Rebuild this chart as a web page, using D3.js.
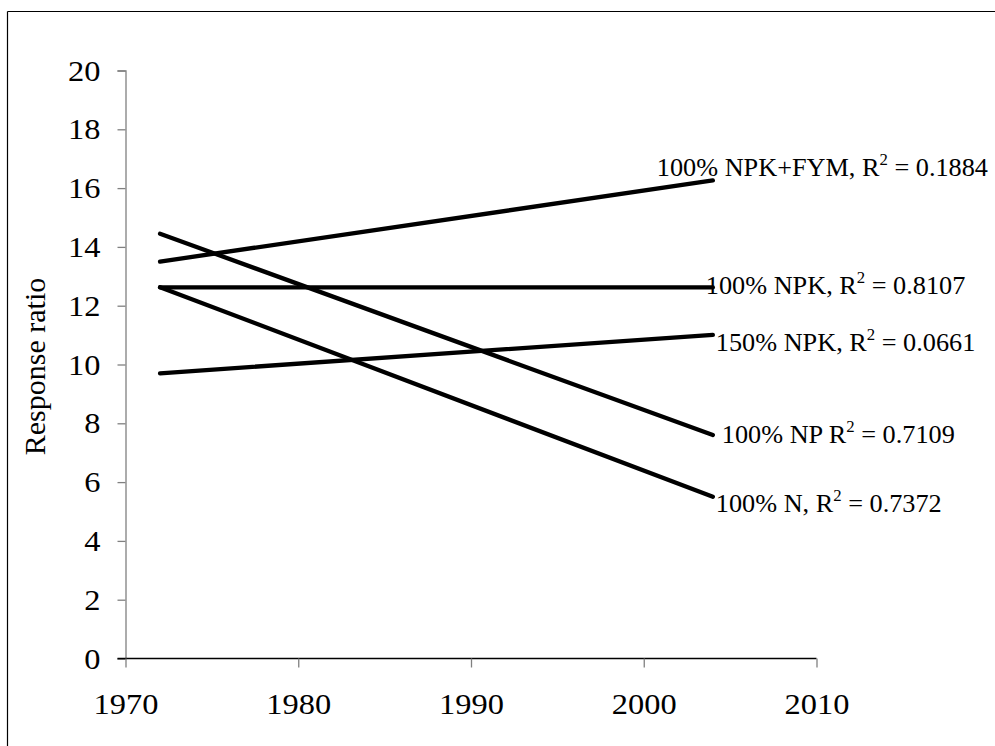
<!DOCTYPE html>
<html>
<head>
<meta charset="utf-8">
<script src="https://cdn.jsdelivr.net/npm/d3@7"></script>
<style>
  html, body { margin: 0; padding: 0; background: #fff; }
  svg { display: block; font-family: "Liberation Serif", "Times New Roman", serif; }
</style>
</head>
<body>
<svg id="chart" width="995" height="746"></svg>
<script>
// Fitted linear trends of response ratio per treatment (start and end of fit)
const years = [1972, 2004];
const series = ["100% NPK+FYM", "100% NPK", "150% NPK", "100% NP", "100% N"];
const startValues = [13.50, 12.62, 9.70, 14.45, 12.63];
const endValues = [16.26, 12.62, 11.01, 7.60, 5.50];
const rSquared = ["0.1884", "0.8107", "0.0661", "0.7109", "0.7372"];
const labelPrefix = ["100% NPK+FYM, R", "100% NPK, R", "150% NPK, R", "100% NP R", "100% N, R"];
const xTicks = [1970, 1980, 1990, 2000, 2010];
const yTicks = [0, 2, 4, 6, 8, 10, 12, 14, 16, 18, 20];

const serif = "Liberation Serif, Times New Roman, serif";
const wideTick = 1.08;  // horizontal stretch of tick glyphs
const wideLabel = 1.05; // horizontal stretch of trend label glyphs

const svg = d3.select("#chart");

// page frame (top and left edges)
svg.append("line").attr("x1", 7.5).attr("x2", 995).attr("y1", 11.5).attr("y2", 11.5)
  .attr("stroke", "#000").attr("stroke-width", 1.2);
svg.append("line").attr("x1", 7.5).attr("x2", 7.5).attr("y1", 11.5).attr("y2", 746)
  .attr("stroke", "#000").attr("stroke-width", 1.2);

const x = d3.scaleLinear().domain([1970, 2010]).range([125.5, 816.5]);
const y = d3.scaleLinear().domain([0, 20]).range([658.5, 70.5]);

// y axis
const yAxis = svg.append("g").attr("transform", `translate(${x(1970)},0)`)
  .call(d3.axisLeft(y).tickValues(yTicks).tickSize(8).tickPadding(0).tickFormat(d3.format("d")));
yAxis.select(".domain").attr("stroke", "#808080").attr("stroke-width", 1.3);
yAxis.selectAll(".tick line").attr("stroke", "#808080").attr("stroke-width", 1.3);
yAxis.selectAll(".tick text").attr("x", 0).attr("font-size", 30).attr("fill", "#000")
  .attr("font-family", serif)
  .attr("transform", `translate(-25,0) scale(${wideTick},1)`);

// x axis
const xAxis = svg.append("g").attr("transform", `translate(0,${y(0)})`)
  .call(d3.axisBottom(x).tickValues(xTicks).tickSize(9).tickPadding(25).tickFormat(d3.format("d")));
xAxis.select(".domain").attr("stroke", "#000").attr("stroke-width", 1.3)
  .attr("d", `M${x(1970) - 8},0H${x(2010)}`);
xAxis.selectAll(".tick line").attr("stroke", "#808080").attr("stroke-width", 1.3);
xAxis.selectAll(".tick text").attr("font-size", 30).attr("fill", "#000")
  .attr("font-family", serif)
  .attr("transform", `scale(${wideTick},1)`);

// axis title
svg.append("text")
  .attr("transform", `translate(45,${(y(0) + y(20)) / 2 + 2}) rotate(-90)`)
  .attr("text-anchor", "middle")
  .attr("font-size", 30)
  .text("Response ratio");

// trend lines
const line = d3.line().x(d => x(d[0])).y(d => y(d[1]));
series.forEach((s, i) => {
  svg.append("path")
    .datum([[years[0], startValues[i]], [years[1], endValues[i]]])
    .attr("d", line)
    .attr("fill", "none")
    .attr("stroke", "#000")
    .attr("stroke-width", 4.3)
    .attr("stroke-linecap", "round");
});

// trend labels with R² values
const labelOffset = [[-56, -4], [-7, 7], [3, 16], [9, 8], [3, 15]];
series.forEach((s, i) => {
  const g = svg.append("g")
    .attr("transform", `translate(${x(years[1]) + labelOffset[i][0]},${y(endValues[i]) + labelOffset[i][1]}) scale(${wideLabel},1)`);
  const t = g.append("text").attr("font-size", 25);
  t.append("tspan").text(labelPrefix[i]);
  t.append("tspan").attr("font-size", 16).attr("dy", -11).text("2");
  t.append("tspan").attr("dy", 11).text(" = " + rSquared[i]);
});
</script>
</body>
</html>
